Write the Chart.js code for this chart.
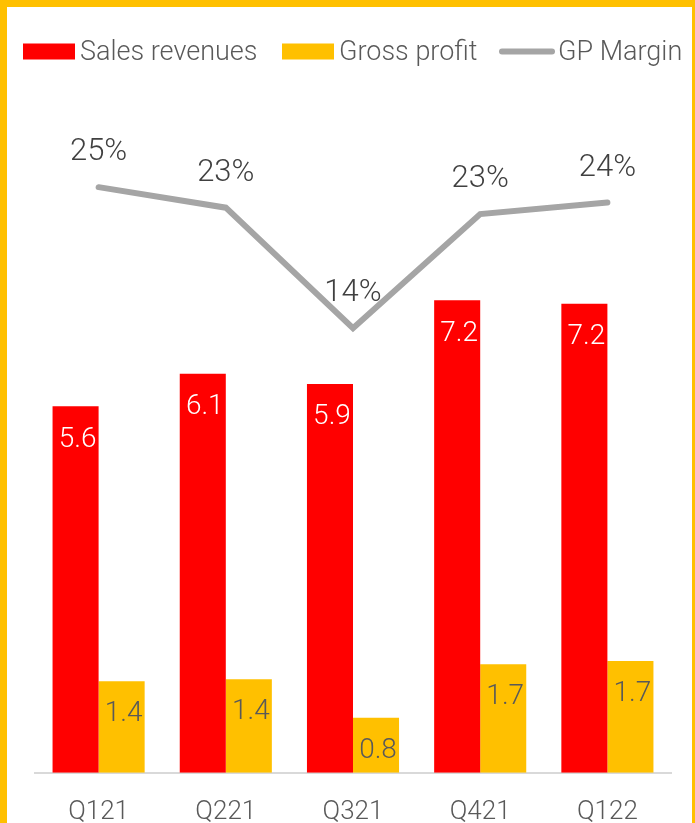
<!DOCTYPE html>
<html>
<head>
<meta charset="utf-8">
<script src="https://cdn.jsdelivr.net/npm/chart.js@4.4.1/dist/chart.umd.min.js"></script>
<style>
  html, body { margin: 0; padding: 0; background: #fff; }
  #frame {
    width: 695px; height: 823px; box-sizing: border-box;
    border: solid #FFC000; border-width: 7px 3px 0 7px; overflow: hidden;
  }
  canvas { display: block; }
</style>
</head>
<body>
<div id="frame"><canvas id="chart" width="685" height="835"></canvas></div>
<script>
const quarters = ["Q121", "Q221", "Q321", "Q421", "Q122"]
const salesRevenues = [5.6, 6.1, 5.94, 7.22, 7.17]
const grossProfit = [1.40, 1.43, 0.84, 1.66, 1.71]
const gpMargin = [25.0, 23.4, 14.0, 22.9, 23.8]

const RED = "#FF0000"
const GOLD = "#FFC000"
const GREY = "#A5A5A5"
const TEXT = "#595959"
const FONT = "'Roboto Light', Roboto"

Chart.defaults.font.family = FONT
Chart.defaults.font.weight = 300

// labels inside the bars and above the line points
const valueLabels = {
  id: "valueLabels",
  afterDatasetsDraw(chart) {
    const ctx = chart.ctx
    ctx.save()
    ctx.textAlign = "center"
    ctx.textBaseline = "middle"
    chart.data.datasets.forEach((ds, i) => {
      const meta = chart.getDatasetMeta(i)
      meta.data.forEach((el, j) => {
        const v = ds.data[j]
        if (ds.type === "line") {
          ctx.font = "300 31px " + FONT
          ctx.fillStyle = "#404040"
          ctx.fillText(Math.round(v) + "%", el.x, el.y - 36)
        } else {
          ctx.font = "300 28px " + FONT
          ctx.fillStyle = i === 0 ? "#FFFFFF" : TEXT
          ctx.fillText(v.toFixed(1), el.x + 2, el.y + 32)
        }
      })
    })
    ctx.restore()
  }
}

// legend drawn by hand so the spacing matches
const legendRow = {
  id: "legendRow",
  afterDraw(chart) {
    const ctx = chart.ctx
    const y = 44.5
    ctx.save()
    ctx.font = "300 27px " + FONT
    ctx.textBaseline = "middle"

    ctx.fillStyle = RED
    ctx.fillRect(16, y - 8, 52, 16)
    ctx.fillStyle = TEXT
    ctx.fillText(chart.data.datasets[0].label, 73, y + 1)

    ctx.fillStyle = GOLD
    ctx.fillRect(275, y - 8, 52, 16)
    ctx.fillStyle = TEXT
    ctx.fillText(chart.data.datasets[1].label, 332, y + 1)

    ctx.strokeStyle = GREY
    ctx.lineWidth = 6
    ctx.lineCap = "round"
    ctx.beginPath()
    ctx.moveTo(495, y)
    ctx.lineTo(545, y)
    ctx.stroke()
    ctx.fillStyle = TEXT
    ctx.fillText(chart.data.datasets[2].label, 551, y + 1)
    ctx.restore()
  }
}

new Chart(document.getElementById("chart"), {
  data: {
    labels: quarters,
    datasets: [
      {
        type: "bar",
        label: "Sales revenues",
        data: salesRevenues,
        backgroundColor: RED,
        yAxisID: "y",
        order: 2,
      },
      {
        type: "bar",
        label: "Gross profit",
        data: grossProfit,
        backgroundColor: GOLD,
        yAxisID: "y",
        order: 2,
      },
      {
        type: "line",
        label: "GP Margin",
        data: gpMargin,
        borderColor: GREY,
        borderWidth: 6,
        borderCapStyle: "round",
        borderJoinStyle: "miter",
        pointRadius: 0,
        tension: 0,
        yAxisID: "y1",
        order: 1,
      },
    ],
  },
  options: {
    responsive: false,
    animation: false,
    layout: {
      padding: { top: 82, left: 28, right: 21, bottom: 0 }
    },
    datasets: {
      bar: { barPercentage: 1, categoryPercentage: 0.724 }
    },
    plugins: {
      legend: { display: false },
      tooltip: { enabled: false },
    },
    scales: {
      x: {
        grid: { display: false },
        border: { color: "#D9D9D9", width: 2 },
        ticks: {
          color: TEXT,
          padding: 15,
          font: { size: 26, weight: 300 }
        }
      },
      y: {
        display: false,
        min: 0,
        max: 10.45,
      },
      y1: {
        display: false,
        min: -20.7,
        max: 32.66,
      },
    },
  },
  plugins: [valueLabels, legendRow],
})
</script>
</body>
</html>
